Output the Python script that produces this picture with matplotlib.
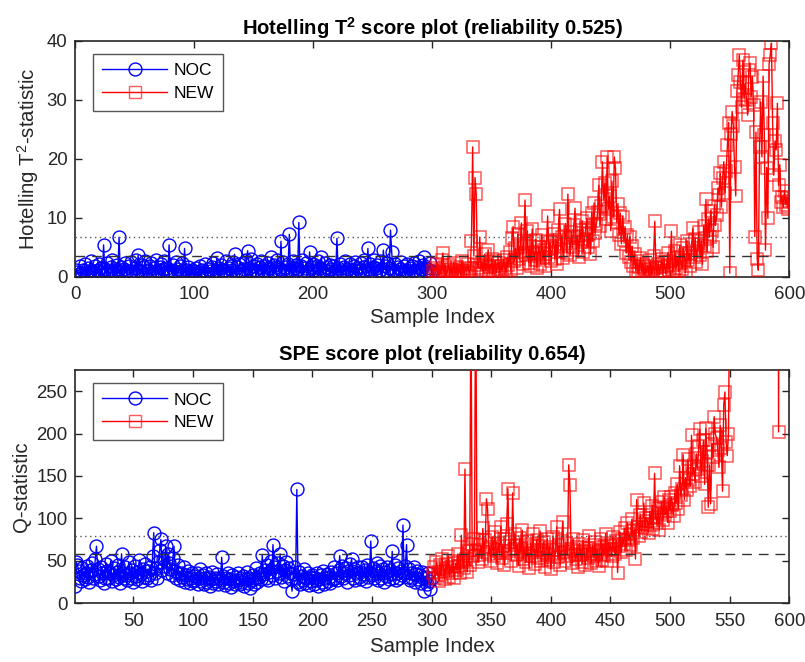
import numpy as np
import matplotlib
matplotlib.use("Agg")
import matplotlib.pyplot as plt
from matplotlib.lines import Line2D

plt.rcParams["font.family"] = ["Liberation Sans", "DejaVu Sans"]
plt.rcParams["mathtext.fontset"] = "custom"
plt.rcParams["mathtext.rm"] = "Liberation Sans"
plt.rcParams["mathtext.bf"] = "Liberation Sans:bold"

# Hotelling T2, normal operating conditions (samples 1-300)
t2_noc = [
    1.2, 0.8, 0.4, 1.9, 0.6, 0.3, 1.1, 2.1, 0.7, 0.5, 1.4, 0.9, 2.6, 0.4, 1.0, 0.6, 1.8, 0.3, 1.2, 2.2,
    0.8, 1.5, 0.5, 5.4, 1.3, 0.7, 2.4, 0.9, 0.4, 1.6, 2.8, 0.6, 1.1, 0.3, 2.0, 1.2, 6.7, 0.8, 1.7, 0.5,
    1.3, 2.3, 0.6, 0.9, 1.8, 0.4, 2.5, 1.0, 0.7, 1.5, 2.9, 0.5, 3.7, 1.2, 0.8, 2.0, 0.4, 1.6, 2.7, 0.9,
    1.1, 0.3, 1.9, 2.4, 0.7, 1.4, 0.5, 2.8, 1.0, 0.6, 1.7, 2.2, 0.4, 1.3, 2.6, 0.8, 1.5, 0.6, 5.4, 1.2,
    0.7, 2.0, 1.0, 0.4, 2.5, 1.3, 0.6, 1.8, 0.9, 2.3, 0.5, 4.8, 1.1, 0.3, 1.6, 0.8, 0.4, 1.2, 0.6, 0.9,
    0.5, 1.4, 0.3, 0.8, 1.9, 0.6, 1.1, 0.4, 2.1, 0.7, 0.5, 1.3, 0.9, 0.3, 1.6, 2.4, 0.6, 1.0, 3.1, 0.8,
    1.5, 0.4, 2.0, 0.9, 1.2, 0.5, 2.6, 0.7, 1.4, 0.3, 1.8, 1.1, 2.5, 3.8, 0.8, 1.6, 0.5, 2.2, 1.0, 0.6,
    2.4, 1.3, 0.7, 2.9, 4.4, 1.5, 0.9, 3.0, 0.6, 1.8, 1.2, 0.4, 2.1, 0.8, 1.6, 2.7, 0.5, 1.1, 0.7, 1.9,
    0.9, 2.3, 1.4, 0.6, 3.4, 1.0, 2.0, 0.5, 1.7, 2.8, 0.8, 1.3, 6.0, 0.9, 2.5, 1.6, 0.4, 1.2, 2.2, 7.2,
    1.1, 0.6, 2.6, 1.5, 0.8, 2.0, 1.3, 9.2, 0.7, 1.8, 2.9, 0.5, 1.4, 2.3, 1.0, 0.6, 4.2, 1.7, 0.9, 2.1,
    1.2, 0.4, 1.9, 2.6, 0.8, 1.5, 3.4, 0.7, 1.1, 2.4, 0.5, 1.6, 0.9, 2.0, 1.3, 0.6, 1.8, 0.4, 1.0, 6.5,
    1.4, 0.7, 2.2, 1.0, 0.5, 1.7, 2.7, 0.8, 1.3, 0.4, 2.1, 1.1, 0.6, 1.9, 2.5, 0.9, 1.5, 0.3, 1.2, 2.3,
    0.7, 1.6, 2.8, 1.0, 0.5, 4.8, 1.3, 2.2, 0.8, 1.7, 2.9, 0.6, 1.4, 2.0, 0.9, 1.1, 2.6, 0.5, 4.5, 1.8,
    1.0, 2.4, 0.7, 1.5, 7.9, 4.2, 1.2, 0.6, 2.1, 0.9, 1.6, 0.4, 1.3, 2.5, 0.8, 1.9, 0.5, 1.1, 2.2, 0.7,
    1.4, 0.6, 1.8, 0.9, 2.3, 1.2, 0.5, 1.6, 2.7, 0.8, 1.3, 2.0, 3.4, 0.9, 1.5, 0.6, 1.1, 2.4, 1.0, 0.7,
]

# Hotelling T2, new data (samples 301-600)
t2_new = [
    0.9, 1.5, 0.4, 2.2, 0.7, 1.2, 0.5, 2.8, 4.0, 0.8, 1.6, 0.3, 1.1, 2.0, 0.6, 1.3, 0.4, 2.4, 0.9, 0.5,
    1.7, 0.8, 1.2, 0.4, 2.6, 1.0, 0.6, 1.5, 0.9, 2.1, 0.7, 1.3, 6.1, 22.0, 3.5, 16.8, 14.1, 2.0, 1.4, 6.7,
    1.2, 2.5, 0.6, 3.8, 1.0, 2.2, 4.6, 0.8, 1.6, 3.0, 0.5, 1.9, 2.7, 0.9, 1.3, 2.4, 0.7, 1.8, 1.1, 2.9,
    1.5, 0.8, 3.3, 2.0, 4.2, 1.2, 6.5, 8.5, 2.6, 4.8, 1.4, 7.2, 3.0, 5.5, 9.1, 2.2, 6.0, 13.0, 3.6, 7.8,
    2.4, 5.2, 1.8, 8.1, 4.0, 2.9, 6.3, 1.5, 3.8, 5.0, 2.2, 7.0, 3.1, 4.6, 1.9, 6.1, 10.3, 3.4, 5.8, 2.6,
    4.9, 7.3, 3.0, 6.2, 2.1, 8.0, 11.4, 4.4, 6.8, 3.2, 5.5, 9.0, 4.1, 14.0, 6.5, 3.7, 7.6, 5.0, 8.8, 11.6,
    4.6, 6.9, 3.3, 7.9, 5.8, 9.5, 4.2, 6.4, 8.3, 9.9, 5.1, 7.2, 3.8, 10.8, 6.0, 12.5, 7.4, 9.0, 11.0, 15.5,
    8.6, 12.0, 19.5, 13.2, 15.8, 9.7, 20.3, 11.4, 13.6, 7.8, 16.2, 10.1, 20.3, 18.4, 9.3, 12.4, 7.0, 10.8, 5.6, 10.2,
    6.2, 8.5, 4.0, 7.1, 3.3, 6.8, 2.5, 5.2, 1.8, 3.9, 1.0, 2.6, 0.5, 1.7, 3.2, 0.8, 2.1, 0.4, 1.3, 0.6,
    1.9, 0.3, 2.8, 1.1, 0.5, 3.5, 9.4, 1.4, 0.7, 2.2, 0.4, 1.6, 3.0, 0.9, 2.5, 0.6, 1.8, 4.1, 1.2, 2.7,
    7.7, 0.8, 2.0, 4.4, 1.5, 3.2, 0.9, 5.3, 2.4, 1.3, 4.8, 3.6, 0.7, 6.1, 2.8, 4.0, 1.9, 5.6, 8.2, 3.3,
    6.4, 2.5, 4.9, 7.5, 3.7, 6.0, 2.1, 8.6, 5.2, 13.1, 4.3, 9.8, 6.7, 11.2, 7.9, 5.0, 12.0, 8.7, 10.5, 15.0,
    13.9, 17.5, 11.8, 16.8, 19.5, 14.2, 18.0, 22.3, 26.1, 0.6, 24.2, 28.0, 25.5, 18.6, 13.7, 31.5, 34.2, 37.6, 33.0, 28.7,
    36.7, 30.2, 32.8, 30.0, 27.4, 35.0, 36.2, 30.5, 33.9, 29.1, 6.8, 24.5, 3.0, 1.1, 22.0, 29.6, 20.3, 34.0, 24.0, 4.5,
    18.5, 9.9, 36.0, 37.6, 39.6, 26.0, 17.2, 23.0, 21.5, 29.4, 15.5, 19.0, 12.7, 13.5, 11.8, 14.6, 12.2, 13.4, 11.5, 12.8,
]

# SPE (Q), normal operating conditions (samples 1-300)
spe_noc = [
    20, 48, 45, 38, 30, 26, 41, 33, 28, 36, 44, 31, 25, 39, 47, 29, 34, 52, 67, 40,
    32, 27, 43, 36, 24, 30, 46, 38, 29, 35, 50, 26, 33, 41, 28, 37, 45, 31, 24, 58,
    36, 29, 42, 33, 27, 48, 35, 30, 39, 25, 44, 32, 28, 37, 51, 34, 26, 40, 31, 46,
    29, 38, 33, 43, 27, 55, 83, 36, 41, 30, 48, 62, 75, 39, 52, 44, 67, 35, 58, 47,
    40, 33, 53, 67, 38, 29, 45, 34, 27, 36, 31, 42, 25, 33, 28, 38, 24, 30, 35, 26,
    32, 27, 36, 23, 30, 40, 26, 33, 22, 29, 35, 25, 31, 20, 28, 37, 24, 30, 26, 34,
    23, 29, 27, 54, 32, 25, 21, 30, 36, 24, 28, 19, 33, 26, 22, 31, 27, 35, 23, 29,
    25, 32, 20, 28, 37, 24, 30, 18, 27, 33, 22, 29, 41, 25, 31, 36, 28, 57, 34, 39,
    30, 45, 27, 37, 50, 33, 69, 42, 29, 38, 47, 35, 58, 31, 44, 26, 39, 48, 32, 41,
    36, 28, 14, 34, 43, 30, 134, 25, 37, 22, 32, 27, 40, 24, 29, 35, 21, 31, 26, 33,
    23, 30, 27, 36, 20, 28, 33, 25, 38, 22, 29, 34, 26, 31, 24, 37, 28, 42, 30, 35,
    27, 39, 56, 32, 44, 29, 36, 41, 25, 38, 33, 46, 52, 30, 40, 27, 35, 43, 31, 37,
    28, 42, 34, 39, 26, 45, 31, 36, 73, 33, 41, 29, 38, 47, 27, 35, 44, 30, 40, 25,
    37, 32, 43, 28, 39, 34, 61, 30, 45, 27, 36, 41, 29, 38, 33, 92, 35, 44, 69, 31,
    40, 27, 36, 30, 42, 25, 34, 38, 28, 33, 24, 37, 29, 14, 31, 22, 35, 26, 17, 30,
]

# SPE (Q), new data (samples 301-600); values above 275 are off the chart
spe_new = [
    35, 42, 30, 48, 37, 26, 45, 33, 52, 40, 28, 46, 38, 55, 31, 43, 36, 50, 29, 47,
    39, 58, 44, 35, 80, 48, 41, 158, 52, 37, 61, 45, 380, 70, 55, 75, 420, 62, 48, 57,
    68, 52, 88, 60, 74, 123, 111, 58, 66, 49, 78, 56, 84, 63, 47, 71, 59, 90, 53, 67,
    45, 76, 93, 135, 61, 72, 50, 130, 64, 82, 57, 69, 44, 77, 60, 86, 52, 65, 48, 73,
    58, 41, 70, 55, 81, 62, 46, 74, 53, 67, 85, 49, 63, 72, 43, 59, 76, 51, 66, 40,
    57, 78, 48, 62, 90, 54, 68, 45, 73, 96, 60, 50, 71, 56, 163, 139, 64, 47, 75, 58,
    52, 66, 43, 70, 57, 48, 74, 61, 45, 65, 53, 79, 58, 47, 68, 55, 72, 50, 63, 44,
    60, 75, 51, 66, 57, 82, 49, 71, 62, 69, 55, 78, 64, 58, 73, 36, 67, 84, 60, 76,
    70, 88, 63, 95, 74, 81, 68, 99, 77, 86, 52, 122, 90, 79, 104, 84, 93, 118, 88, 100,
    97, 83, 108, 92, 115, 87, 153, 101, 94, 112, 86, 106, 119, 98, 125, 104, 113, 95, 121, 109,
    125, 116, 103, 130, 118, 140, 111, 162, 127, 135, 175, 122, 148, 133, 170, 145, 138, 198, 152, 160,
    143, 176, 158, 185, 205, 150, 168, 192, 140, 206, 178, 113, 163, 117, 188, 172, 220, 199, 195, 181,
    160, 210, 183, 132, 234, 249, 190, 174, 200, 380, 420, 450, 410, 470, 500, 440, 520, 480, 560, 510,
    590, 540, 620, 570, 650, 600, 680, 630, 710, 660, 740, 690, 770, 720, 800, 750, 830, 780, 860, 810,
    880, 840, 910, 870, 940, 900, 960, 930, 990, 950, 202, 980, 1010, 970, 1040, 1000, 1060, 1020, 1090, 1050,
]

t2_limits = [6.75, 3.5]      # dotted, dashed
spe_limits = [79.3, 57.6]

x_noc = np.arange(1, 301)
x_new = np.arange(301, 601)

TXT = "#262626"

fig = plt.figure(figsize=(8.05, 6.62), dpi=100)
ax1 = fig.add_axes([0.0932, 0.5820, 0.8873, 0.3565])
ax2 = fig.add_axes([0.0932, 0.0891, 0.8873, 0.3520])


def draw(ax, noc, new, limits, xlim, ylim):
    ax.plot(x_noc, noc, "-o", color="blue", lw=1.0, mfc="none", ms=9.3,
            mew=1.0, zorder=2)
    ax.plot(x_new, new, "-", color="red", lw=1.0, zorder=3)
    ax.plot(x_new, new, "s", color="red", mfc="none", ms=8.6, mew=1.1,
            alpha=0.65, zorder=3)
    ax.axhline(limits[0], color="#555555", ls=(0, (1, 2.5)), lw=1.0, zorder=4)
    ax.axhline(limits[1], color="#333333", ls=(0, (7, 5)), lw=1.0, zorder=4)
    ax.set_xlim(*xlim)
    ax.set_ylim(*ylim)
    ax.tick_params(direction="in", top=True, right=True, labelsize=13.4,
                   length=5, width=1.0, colors=TXT)
    ax.tick_params(axis="x", pad=7)
    ax.tick_params(axis="y", pad=5.5)
    for s in ax.spines.values():
        s.set_linewidth(1.2)
        s.set_color(TXT)
    handles = [
        Line2D([], [], color="blue", marker="o", mfc="none", ms=9.3, lw=1.0),
        Line2D([], [], color="red", marker="s", mfc="none", ms=8.6, lw=1.0,
               markeredgecolor=(1, 0, 0, 0.65)),
    ]
    leg = ax.legend(handles, ["NOC", "NEW"], loc="upper left",
                    bbox_to_anchor=(0.025, 0.945), fontsize=12.5,
                    fancybox=False, framealpha=1, edgecolor="#555555",
                    handlelength=3.7, borderpad=0.55, labelspacing=0.45,
                    handletextpad=0.38, borderaxespad=0.0)
    leg.get_frame().set_linewidth(1.0)
    for t in leg.get_texts():
        t.set_color("black")


draw(ax1, t2_noc, t2_new, t2_limits, (0, 600), (0, 40))
ax1.set_xticks(range(0, 601, 100))
ax1.set_yticks(range(0, 41, 10))
ax1.set_title(r"Hotelling T$^\mathbf{2}$ score plot (reliability 0.525)",
              fontsize=14.6, fontweight="bold", pad=4)
ax1.set_ylabel(r"Hotelling T$^2$-statistic", fontsize=14.7, color=TXT)
ax1.set_xlabel("Sample Index", fontsize=14.7, labelpad=3, color=TXT)

draw(ax2, spe_noc, spe_new, spe_limits, (1, 600), (0, 275))
ax2.set_xticks(range(50, 601, 50))
ax2.set_yticks(range(0, 251, 50))
ax2.set_title("SPE score plot (reliability 0.654)", fontsize=14.6,
              fontweight="bold", pad=7)
ax2.set_ylabel("Q-statistic", fontsize=14.7, color=TXT)
ax2.set_xlabel("Sample Index", fontsize=14.7, labelpad=5, color=TXT)

fig.savefig("out.png", dpi=100)
